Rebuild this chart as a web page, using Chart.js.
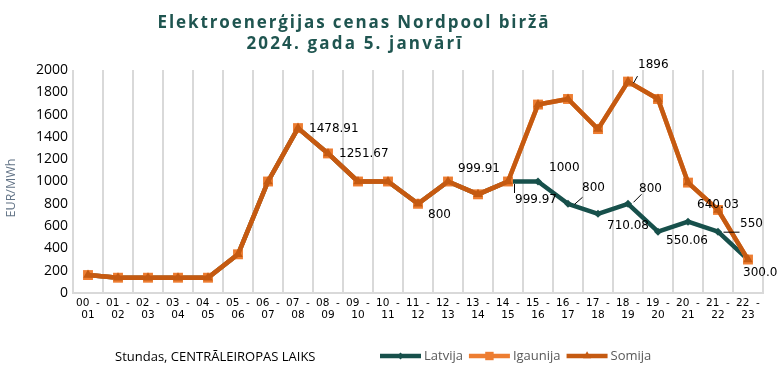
<!DOCTYPE html>
<html><head><meta charset="utf-8">
<script src="https://cdn.jsdelivr.net/npm/chart.js@4.4.1/dist/chart.umd.min.js"></script>
<style>html,body{margin:0;padding:0;background:#fff;overflow:hidden}#wrap{width:777px;height:374px;position:relative}</style>
</head><body><div id="wrap"><canvas id="c" width="777" height="374"></canvas></div>
<script>
const titleLines = ['Elektroenerģijas cenas Nordpool biržā', '2024. gada 5. janvārī'];
const categories = ['00 - 01','01 - 02','02 - 03','03 - 04','04 - 05','05 - 06','06 - 07','07 - 08','08 - 09','09 - 10','10 - 11','11 - 12','12 - 13','13 - 14','14 - 15','15 - 16','16 - 17','17 - 18','18 - 19','19 - 20','20 - 21','21 - 22','22 - 23'];
const yTicks = [0,200,400,600,800,1000,1200,1400,1600,1800,2000];
const latvija  = [161,137,137,137,137,347,999.9,1478.91,1251.67,999.9,999.9,800,999.91,885,999.97,1000,800,710.08,800,550.06,640.03,550,300];
const igaunija = [161,137,137,137,137,347,999.9,1478.91,1251.67,999.9,999.9,800,999.91,885,999.97,1690,1740,1470,1896,1740,990,745,300];
const somija   = [161,137,137,137,137,347,999.9,1478.91,1251.67,999.9,999.9,800,999.91,885,999.97,1690,1740,1470,1896,1740,990,745,300];
const seriesNames = ['Latvija','Igaunija','Somija'];
const xTitle = 'Stundas, CENTRĀLEIROPAS LAIKS';
const yTitle = 'EUR/MWh';
// which points carry a value label (series index, point index, decimals)
const labelPoints = [[2,7,2],[2,8,2],[2,11,0],[2,12,2],[2,18,0],[0,14,2],[0,15,0],[0,16,0],[0,17,2],[0,18,0],[0,19,2],[0,20,2],[0,21,0],[0,22,1]];
</script>
<script>
// label placement (layout only): text offset from point and optional leader line
const labelLayout = {
  '2-7':{dx:11,dy:1}, '2-8':{dx:11,dy:0}, '2-11':{dx:10,dy:11}, '2-12':{dx:10,dy:-13},
  '2-18':{dx:10,dy:-17,lead:[5,1,9,-6]},
  '0-14':{dx:7,dy:18,lead:[6,2,6,11]}, '0-15':{dx:11,dy:-14},
  '0-16':{dx:14,dy:-16,lead:[6,0,14,-7]}, '0-17':{dx:9,dy:12},
  '0-18':{dx:11,dy:-15,lead:[5,-2,13,-10]}, '0-19':{dx:8,dy:9},
  '0-20':{dx:9,dy:-17}, '0-21':{dx:22,dy:-8,lead:[5,0,21,0]}, '0-22':{dx:-5,dy:13}
};
const colors = ['#17504B','#ED7D31','#C55A11'];
const styles = ['rectRot','rect','triangle'];
const radii = [4,7,5.5];
const widths = [4.5,4.5,4.5];
const seriesData = [latvija, igaunija, somija];

function drawSpaced(ctx, text, cx, y, target){
  ctx.textAlign = 'left';
  if ('letterSpacing' in ctx) {
    ctx.letterSpacing = '0px';
    const w = ctx.measureText(text).width;
    const n = [...text].length;
    const ls = (target - w) / (n - 1);
    ctx.letterSpacing = ls + 'px';
    ctx.fillText(text, cx - target/2, y);
    ctx.letterSpacing = '0px';
  } else {
    ctx.textAlign = 'center';
    ctx.fillText(text, cx, y);
  }
}

function drawMarker(ctx, style, x, y, r){
  Chart.helpers.drawPoint(ctx, {pointStyle: style, rotation: 0, radius: r, borderWidth: 0}, x, y);
}

const decor = {
  id: 'decor',
  afterDatasetsDraw(chart){
    const ctx = chart.ctx;
    ctx.save();
    ctx.font = '12px "DejaVu Sans"';
    ctx.fillStyle = '#000';
    ctx.strokeStyle = '#000';
    ctx.lineWidth = 1;
    ctx.textBaseline = 'middle';
    ctx.textAlign = 'left';
    labelPoints.forEach(([s,i,dec]) => {
      const pt = chart.getDatasetMeta(s).data[i];
      const lay = labelLayout[s+'-'+i];
      const v = seriesData[s][i];
      ctx.fillText(v.toFixed(dec), pt.x + lay.dx, pt.y + lay.dy);
      if (lay.lead) {
        const L = lay.lead;
        ctx.beginPath();
        ctx.moveTo(pt.x + L[0] + 0.5, pt.y + L[1] + 0.5);
        ctx.lineTo(pt.x + L[2] + 0.5, pt.y + L[3] + 0.5);
        ctx.stroke();
      }
    });
    ctx.restore();
  },
  afterDraw(chart){
    const ctx = chart.ctx;
    ctx.save();
    // title
    ctx.fillStyle = '#1F5550';
    ctx.font = 'bold 17px "Open Sans"';
    ctx.textBaseline = 'alphabetic';
    drawSpaced(ctx, titleLines[0], 353, 28, 391);
    drawSpaced(ctx, titleLines[1], 354, 49, 215);
    // y title
    ctx.save();
    ctx.translate(11, 188);
    ctx.rotate(-Math.PI/2);
    ctx.font = '12.5px "Open Sans"';
    ctx.fillStyle = '#637487';
    ctx.textAlign = 'center';
    ctx.textBaseline = 'middle';
    ctx.fillText(yTitle, 0, 0);
    ctx.restore();
    // x title
    ctx.font = '13px "Open Sans"';
    ctx.fillStyle = '#000';
    ctx.textAlign = 'left';
    ctx.textBaseline = 'middle';
    ctx.fillText(xTitle, 115, 357);
    // legend
    let x = 380;
    const y = 356;
    ctx.font = '13px "Open Sans"';
    seriesNames.forEach((name, k) => {
      ctx.strokeStyle = colors[k];
      ctx.fillStyle = colors[k];
      ctx.lineWidth = widths[k];
      ctx.beginPath();
      ctx.moveTo(x, y); ctx.lineTo(x + 41, y);
      ctx.stroke();
      drawMarker(ctx, styles[k], x + 20.5, y, radii[k] * 0.85);
      ctx.fillStyle = '#595959';
      ctx.textAlign = 'left';
      ctx.fillText(name, x + 44, y);
      x += 44 + ctx.measureText(name).width + 6;
    });
    ctx.restore();
  }
};

const datasets = seriesNames.map((name, k) => ({
  label: name,
  data: seriesData[k],
  borderColor: colors[k],
  backgroundColor: colors[k],
  borderWidth: widths[k],
  pointStyle: styles[k],
  pointRadius: radii[k],
  pointBorderWidth: 0,
  pointBackgroundColor: colors[k],
  tension: 0,
  borderJoinStyle: 'round',
  borderCapStyle: 'round',
  order: k === 0 ? 3 : (k === 1 ? 2 : 1)
}));

new Chart(document.getElementById('c'), {
  type: 'line',
  data: { labels: categories, datasets },
  plugins: [decor],
  options: {
    responsive: false,
    devicePixelRatio: 1,
    animation: false,
    layout: { padding: { top: 70, right: 14, bottom: 51, left: 0 } },
    plugins: { legend: { display: false }, title: { display: false }, tooltip: { enabled: false } },
    scales: {
      x: {
        type: 'category',
        offset: true,
        grid: { offset: true, color: '#D9D9D9', lineWidth: 2, drawTicks: false },
        border: { color: '#D9D9D9', width: 2 },
        ticks: {
          autoSkip: false, maxRotation: 0, minRotation: 0, padding: 4,
          color: '#000', font: { family: '"DejaVu Sans"', size: 10.5, lineHeight: 1.15 },
          callback: function(v, i){ const p = categories[i].split(' - '); return [p[0] + '  -', p[1]]; }
        },
        afterFit: s => { s.height = 30; }
      },
      y: {
        min: 0, max: 2000,
        grid: { display: false, drawTicks: false },
        border: { display: false },
        ticks: { padding: 5, color: '#000', font: { family: '"Open Sans"', size: 14 },
                 callback: v => String(v) },
        afterBuildTicks: s => { s.ticks = yTicks.map(v => ({ value: v })); },
        afterFit: s => { s.width = 73; }
      }
    }
  }
});
</script>
</body></html>
